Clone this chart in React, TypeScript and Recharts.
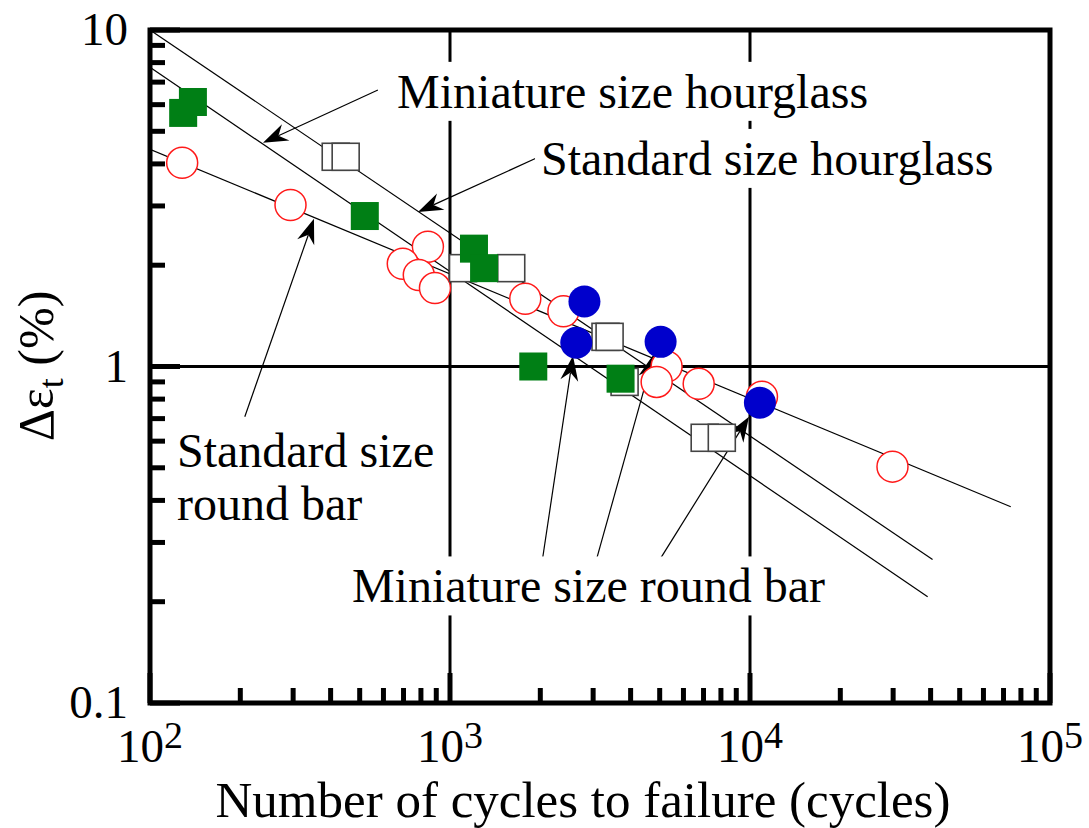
import React, { useLayoutEffect, useRef, useState } from "react";
import { ComposedChart, Scatter, XAxis, YAxis, ReferenceLine, ReferenceArea, ReferenceDot } from "recharts";

const SERIF = '"Liberation Serif", "Times New Roman", serif';

// axis ticks (log decades with minor ticks 2..9)
const xTicks = [100, 200, 300, 400, 500, 600, 700, 800, 900, 1000, 2000, 3000, 4000, 5000, 6000, 7000, 8000, 9000, 10000, 20000, 30000, 40000, 50000, 60000, 70000, 80000, 90000, 100000];
const yTicks = [0.1, 0.2, 0.3, 0.4, 0.5, 0.6, 0.7, 0.8, 0.9, 1, 2, 3, 4, 5, 6, 7, 8, 9, 10];
const xGrid = [1000, 10000];
const yGrid = [1];

// standard size round bar (red open circles)
const stdRoundN = [128, 294, 844, 696, 787, 891, 1782, 2388, 5272, 4885, 6745, 10960, 29850];
const stdRoundDe = [4.03, 3.02, 2.27, 2.02, 1.87, 1.71, 1.59, 1.46, 1.0, 0.9, 0.888, 0.813, 0.504];

// standard size hourglass (open squares)
const stdHourN = [416, 449, 1105, 1600, 3299, 3404, 3819, 7063, 8054];
const stdHourDe = [4.2, 4.2, 1.96, 1.96, 1.225, 1.225, 0.9, 0.614, 0.614];

// miniature size hourglass (green squares)
const miniHourN = [129, 139, 520, 1202, 1299, 1895, 3703];
const miniHourDe = [5.67, 6.11, 2.8, 2.24, 1.96, 1.0, 0.92];

// miniature size round bar (blue circles)
const miniRoundN = [2806, 2636, 5035, 10790];
const miniRoundDe = [1.56, 1.176, 1.184, 0.78];

// fitted lines (end points)
const fitStdHourN = [100, 40600];
const fitStdHourDe = [10, 0.267];
const fitMiniHourN = [100, 39100];
const fitMiniHourDe = [7.75, 0.207];
const fitStdRoundN = [100, 74000];
const fitStdRoundDe = [4.42, 0.383];

// annotations
const noteText = [["Miniature size hourglass"], ["Standard size hourglass"], ["Standard size", "round bar"], ["Miniature size round bar"]];
const noteN = [666, 2011, 123, 471];
const noteDe = [5.87, 3.71, 0.504, 0.199];

const arrowFromN = [575, 1950, 207, 2026, 3090, 5050];
const arrowFromDe = [6.63, 4.17, 0.709, 0.2615, 0.2704, 0.2704];
const arrowToN = [238, 782, 352, 2570, 4786, 9923];
const arrowToDe = [4.62, 2.88, 2.75, 1.076, 1.091, 0.709];

const pts = (ns: number[], ds: number[]) => ns.map((n, i) => ({ n, de: ds[i] }));

const isDecade = (v: number) => Math.abs(Math.log10(v) - Math.round(Math.log10(v))) < 1e-9;

function XTick(props: any) {
  const { x, y, payload, side } = props;
  const v = payload.value;
  const major = isDecade(v);
  const len = major ? 30 : 15;
  const dir = side === "bottom" ? -1 : 1;
  return (
    <g>
      <line x1={x} y1={y} x2={x} y2={y + dir * len} stroke="#000" strokeWidth={5} />
      {side === "bottom" && major && (
        <text x={x} y={y + 59} textAnchor="middle" fontFamily={SERIF} fontSize={47} fill="#000">
          10
          <tspan fontSize={38} dy={-14}>
            {Math.round(Math.log10(v))}
          </tspan>
        </text>
      )}
    </g>
  );
}

function YTick(props: any) {
  const { x, y, payload, side } = props;
  const v = payload.value;
  const major = isDecade(v);
  const len = major ? 30 : 15;
  const dir = side === "left" ? 1 : -1;
  return (
    <g>
      <line x1={x} y1={y} x2={x + dir * len} y2={y} stroke="#000" strokeWidth={5} />
      {side === "left" && major && (
        <text x={x - 22} y={y + 15} textAnchor="end" fontFamily={SERIF} fontSize={47} fill="#000">
          {String(v)}
        </text>
      )}
    </g>
  );
}

function Note({ cx, cy, lines }: { cx: number; cy: number; lines: string[] }) {
  const ref = useRef<SVGTextElement>(null);
  const [box, setBox] = useState<{ x: number; y: number; w: number; h: number } | null>(null);
  useLayoutEffect(() => {
    if (ref.current) {
      const b = ref.current.getBBox();
      setBox({ x: b.x, y: b.y, w: b.width, h: b.height });
    }
  }, [cx, cy]);
  return (
    <g>
      {box && <rect x={box.x - 6} y={box.y - 3} width={box.w + 12} height={box.h + 6} fill="#fff" />}
      <text ref={ref} x={cx} y={cy} fontFamily={SERIF} fontSize={48} fill="#000">
        {lines.map((l, i) => (
          <tspan key={i} x={cx} dy={i === 0 ? 0 : 53}>
            {l}
          </tspan>
        ))}
      </text>
    </g>
  );
}

function Arrow(props: any) {
  const { x1, y1, x2, y2 } = props;
  const dx = x2 - x1;
  const dy = y2 - y1;
  const d = Math.hypot(dx, dy) || 1;
  const ux = dx / d;
  const uy = dy / d;
  const nx = -uy;
  const ny = ux;
  const L = 25;
  const W = 9;
  const notch = 8;
  const bx = x2 - ux * L;
  const by = y2 - uy * L;
  const mx = x2 - ux * (L - notch);
  const my = y2 - uy * (L - notch);
  return (
    <g>
      <line x1={x1} y1={y1} x2={mx} y2={my} stroke="#000" strokeWidth={1.2} />
      <path d={`M${x2},${y2} L${bx + nx * W},${by + ny * W} L${mx},${my} L${bx - nx * W},${by - ny * W} Z`} fill="#000" />
    </g>
  );
}

const redCircle = (p: any) => <circle cx={p.cx} cy={p.cy} r={15.5} fill="#fff" stroke="#ff1a1a" strokeWidth={1.5} />;
const blueCircle = (p: any) => <circle cx={p.cx} cy={p.cy} r={16} fill="#0000cc" />;
const openSquare = (p: any) => <rect x={p.cx - 13.5} y={p.cy - 13.5} width={27} height={27} fill="#fff" stroke="#444" strokeWidth={1.6} />;
const greenSquare = (p: any) => <rect x={p.cx - 14} y={p.cy - 14} width={28} height={28} fill="#007f15" />;
const noMark = () => <g />;

export default function App() {
  const fitLine = { stroke: "#000", strokeWidth: 1.2 };
  return (
    <div style={{ position: "absolute", left: 0, top: 0, width: 1089, height: 828, background: "#fff" }}>
      <ComposedChart width={1089} height={828} margin={{ top: 30, right: 39, bottom: 65, left: 0 }}>
        <XAxis xAxisId="b" dataKey="n" type="number" scale="log" domain={[100, 100000]} allowDataOverflow ticks={xTicks} interval={0} orientation="bottom" height={60} tickSize={0} tickMargin={0} tickLine={false} axisLine={false} tick={(p: any) => <XTick {...p} side="bottom" />} />
        <XAxis xAxisId="t" dataKey="n" type="number" scale="log" domain={[100, 100000]} allowDataOverflow ticks={xTicks} interval={0} orientation="top" height={0} tickSize={0} tickMargin={0} tickLine={false} axisLine={false} tick={(p: any) => <XTick {...p} side="top" />} />
        <YAxis yAxisId="l" dataKey="de" type="number" scale="log" domain={[0.1, 10]} allowDataOverflow ticks={yTicks} interval={0} orientation="left" width={150} tickSize={0} tickMargin={0} tickLine={false} axisLine={false} tick={(p: any) => <YTick {...p} side="left" />} />
        <YAxis yAxisId="r" dataKey="de" type="number" scale="log" domain={[0.1, 10]} allowDataOverflow ticks={yTicks} interval={0} orientation="right" width={0} tickSize={0} tickMargin={0} tickLine={false} axisLine={false} tick={(p: any) => <YTick {...p} side="right" />} />

        {xGrid.map((v) => (
          <ReferenceLine key={"gx" + v} xAxisId="b" yAxisId="l" x={v} stroke="#000" strokeWidth={3} />
        ))}
        {yGrid.map((v) => (
          <ReferenceLine key={"gy" + v} xAxisId="b" yAxisId="l" y={v} stroke="#000" strokeWidth={3} />
        ))}

        <Scatter xAxisId="b" yAxisId="l" data={pts(fitStdHourN, fitStdHourDe)} line={fitLine} shape={noMark} isAnimationActive={false} />
        <Scatter xAxisId="b" yAxisId="l" data={pts(fitMiniHourN, fitMiniHourDe)} line={fitLine} shape={noMark} isAnimationActive={false} />
        <Scatter xAxisId="b" yAxisId="l" data={pts(fitStdRoundN, fitStdRoundDe)} line={fitLine} shape={noMark} isAnimationActive={false} />

        <Scatter xAxisId="b" yAxisId="l" data={pts(stdRoundN, stdRoundDe)} shape={redCircle} isAnimationActive={false} />
        <Scatter xAxisId="b" yAxisId="l" data={pts(stdHourN, stdHourDe)} shape={openSquare} isAnimationActive={false} />
        <Scatter xAxisId="b" yAxisId="l" data={pts(miniHourN, miniHourDe)} shape={greenSquare} isAnimationActive={false} />
        <Scatter xAxisId="b" yAxisId="l" data={pts(miniRoundN, miniRoundDe)} shape={blueCircle} isAnimationActive={false} />

        {noteText.map((lines, i) => (
          <ReferenceDot key={"note" + i} xAxisId="b" yAxisId="l" x={noteN[i]} y={noteDe[i]} shape={(p: any) => <Note cx={p.cx} cy={p.cy} lines={lines} />} />
        ))}
        {arrowFromN.map((n, i) => (
          <ReferenceLine
            key={"arr" + i}
            xAxisId="b"
            yAxisId="l"
            segment={[
              { x: n, y: arrowFromDe[i] },
              { x: arrowToN[i], y: arrowToDe[i] },
            ]}
            shape={(p: any) => <Arrow {...p} />}
          />
        ))}

        <ReferenceArea xAxisId="b" yAxisId="l" x1={100} x2={100000} y1={0.1} y2={10} fill="none" fillOpacity={0} stroke="#000" strokeWidth={5} strokeOpacity={1} />
      </ComposedChart>
      <svg width={1089} height={828} style={{ position: "absolute", left: 0, top: 0, pointerEvents: "none" }}>
        <text x={583} y={817} textAnchor="middle" fontFamily={SERIF} fontSize={51} fill="#000">
          Number of cycles to failure (cycles)
        </text>
        <text transform="translate(53,366) rotate(-90)" textAnchor="middle" fontFamily={SERIF} fontSize={50} fill="#000">
          Δε
          <tspan fontSize={36} dy={10}>
            t
          </tspan>
          <tspan dy={-10}> (%)</tspan>
        </text>
      </svg>
    </div>
  );
}
